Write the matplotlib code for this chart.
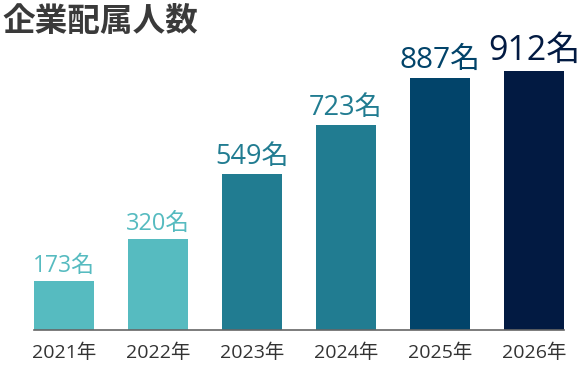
import matplotlib.pyplot as plt
import numpy as np

plt.rcParams['font.family'] = ['Noto Sans CJK JP', 'DejaVu Sans']

# データ
years = ['2021年', '2022年', '2023年', '2024年', '2025年', '2026年']
counts = [173, 320, 549, 723, 887, 912]

# 見た目
colors = ['#56BBC0', '#56BBC0', '#217C91', '#217C91', '#02446A', '#021A42']
label_sizes = [16.5, 17, 19.5, 19.5, 21.5, 24.5]
num_font = ['Open Sans', 'Noto Sans CJK JP']

fig = plt.figure(figsize=(5.81, 3.74), dpi=100)
ax = fig.add_axes([34 / 581, 44 / 374, 530 / 581, 270 / 374])

x = np.arange(len(years))
bars = ax.bar(x, counts, width=0.64, color=colors)

for bar, v, c, s in zip(bars, counts, colors, label_sizes):
    ax.annotate(f'{v}名', (bar.get_x() + bar.get_width() / 2, bar.get_height()),
                xytext=(0, 2), textcoords='offset points',
                ha='center', va='bottom', color=c, fontsize=s, family=num_font)

ax.set_xlim(-0.32, 5.32)
ax.set_ylim(0, 950)
ax.set_xticks(x)
ax.set_xticklabels(years, fontsize=14, color='#333333', family=num_font)
ax.tick_params(axis='x', length=0, pad=10)
ax.set_yticks([])
for side in ['top', 'right', 'left']:
    ax.spines[side].set_visible(False)
ax.spines['bottom'].set_color('#666666')
ax.spines['bottom'].set_linewidth(1.2)

fig.text(2 / 581, 1 - 22 / 374, '企業配属人数', fontsize=23.5, fontweight='bold',
         color='#3a3a3a', ha='left', va='center')

fig.savefig('out.png', dpi=100)
